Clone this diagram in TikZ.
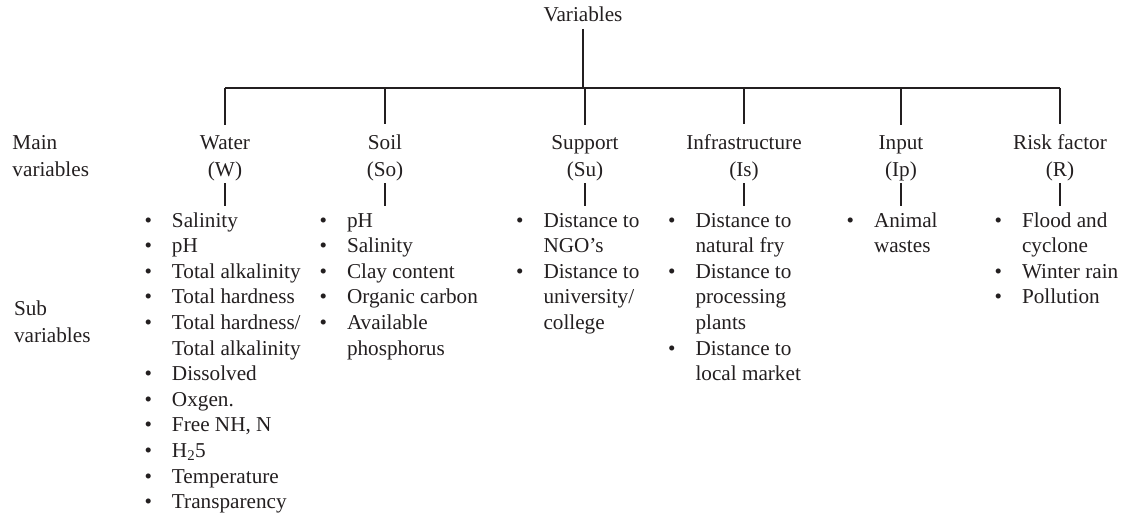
\documentclass[tikz,border=0pt]{standalone}
\usepackage{fontspec}
\setmainfont{Liberation Serif}
\definecolor{ink}{HTML}{231F20}
\newcommand{\bul}{\textbullet}
\newenvironment{sublist}{\begin{tabular}[t]{@{}p{27.5pt}@{}l@{}}}{\end{tabular}}
\begin{document}
\begin{tikzpicture}[x=1pt,y=-1pt,
  txt/.style={inner sep=0pt, outer sep=0pt, text=ink, font=\fontsize{21.2}{27}\selectfont},
  mainvar/.style={txt, align=center, anchor=base},
  sidelab/.style={txt, align=left, anchor=base west},
  listnode/.style={txt, anchor=base west, font=\fontsize{21.2}{25.6}\selectfont},
  conn/.style={draw=ink, line width=1.1pt}]
\useasboundingbox (0,0) rectangle (1123,516);
\coordinate (bary) at (0,88);

\node[txt, anchor=base] (var) at (583,21.5) {Variables};

\node[mainvar] (W)  at (225,176)  {Water\\(W)};
\node[mainvar] (So) at (385,176)  {Soil\\(So)};
\node[mainvar] (Su) at (585,176)  {Support\\(Su)};
\node[mainvar] (Is) at (744,176)  {Infrastructure\\(Is)};
\node[mainvar] (Ip) at (901,176)  {Input\\(Ip)};
\node[mainvar] (R)  at (1060,176) {Risk factor\\(R)};

\node[sidelab] (mainlab) at (12.5,176) {Main\\variables};
\node[sidelab] (sublab) at (14,342) {Sub\\variables};

\node[listnode] (WL) at (144.5,227) {\begin{sublist}
\bul & Salinity\\
\bul & pH\\
\bul & Total alkalinity\\
\bul & Total hardness\\
\bul & Total hardness/\\
 & Total alkalinity\\
\bul & Dissolved\\
\bul & Oxgen.\\
\bul & Free NH, N\\
\bul & H\textsubscript{2}5\\
\bul & Temperature\\
\bul & Transparency
\end{sublist}};

\node[listnode] (SoL) at (319.5,227) {\begin{sublist}
\bul & pH\\
\bul & Salinity\\
\bul & Clay content\\
\bul & Organic carbon\\
\bul & Available\\
 & phosphorus
\end{sublist}};

\node[listnode] (SuL) at (516,227) {\begin{sublist}
\bul & Distance to\\
 & NGO's\\
\bul & Distance to\\
 & university/\\
 & college
\end{sublist}};

\node[listnode] (IsL) at (668,227) {\begin{sublist}
\bul & Distance to\\
 & natural fry\\
\bul & Distance to\\
 & processing\\
 & plants\\
\bul & Distance to\\
 & local market
\end{sublist}};

\node[listnode] (IpL) at (846.5,227) {\begin{sublist}
\bul & Animal\\
 & wastes
\end{sublist}};

\node[listnode] (RL) at (994.5,227) {\begin{sublist}
\bul & Flood and\\
 & cyclone\\
\bul & Winter rain\\
\bul & Pollution
\end{sublist}};

% connectors
\draw[conn, shorten <=7pt] (var.south) -- (var.south |- bary);
\draw[conn] (W.north |- bary) -- (R.north |- bary);
\foreach \m/\l in {W/WL, So/SoL, Su/SuL, Is/IsL, Ip/IpL, R/RL} {
  \draw[conn, shorten >=10pt] (\m.north |- bary) -- (\m.north);
  \draw[conn, shorten <=2.5pt, shorten >=3pt] (\m.south) -- (\l.north -| \m.south);
}
\end{tikzpicture}
\end{document}
